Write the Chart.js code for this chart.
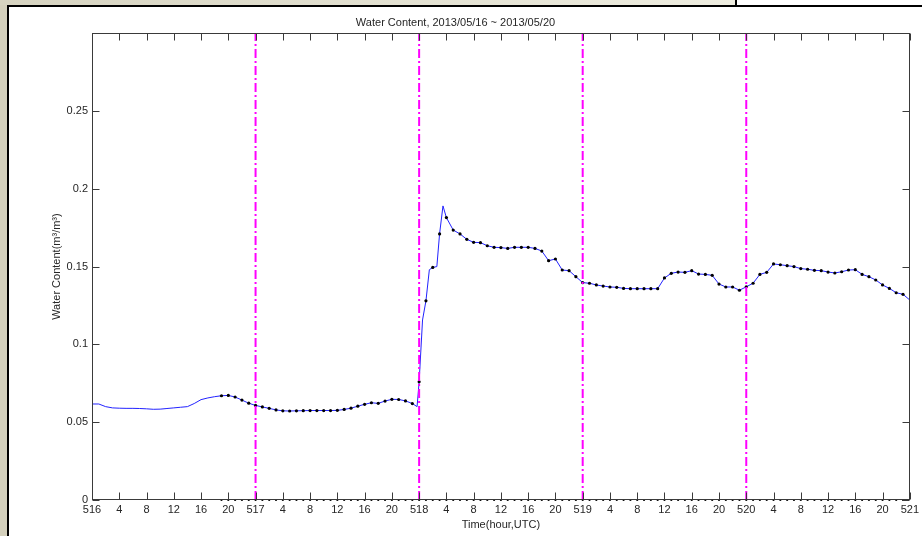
<!DOCTYPE html>
<html>
<head>
<meta charset="utf-8">
<script src="https://cdn.jsdelivr.net/npm/chart.js@4/dist/chart.umd.min.js"></script>
<style>
  html, body { margin: 0; padding: 0; }
  body { width: 922px; height: 536px; position: relative; overflow: hidden; background: #d4d0bc; }
  .strip { position: absolute; left: 0; top: 0; width: 736px; height: 5px; background: linear-gradient(to right, #d6d3c0, #eeede0); }
  .strip-r { position: absolute; left: 737px; top: 0; width: 185px; height: 5px; background: #fff; }
  .strip-sep { position: absolute; left: 735px; top: 0; width: 2px; height: 5px; background: #000; }
  .panel { position: absolute; left: 7px; top: 5px; width: 915px; height: 531px; box-sizing: border-box; background: #fff; border-left: 2px solid #000; border-top: 2px solid #000; }
  canvas { position: absolute; left: 0; top: 0; }
</style>
</head>
<body>
<div class="strip"></div>
<div class="strip-sep"></div>
<div class="strip-r"></div>
<div class="panel"></div>
<canvas id="chart" width="922" height="536"></canvas>
<script>
// hours since 2013/05/16 00 UTC
const hourT = [
  0, 1, 2, 3, 4, 5, 6, 7, 8, 9, 10, 11, 12, 13, 14, 15, 16, 17, 18, 19, 20, 21, 22, 23,
  24, 25, 26, 27, 28, 29, 30, 31, 32, 33, 34, 35, 36, 37, 38, 39, 40, 41, 42, 43, 44, 45, 46, 47, 47.7,
  48, 48.5, 49, 49.5, 50, 50.6, 51, 51.5, 52, 53, 54, 55, 56, 57, 58, 59, 60, 61, 62, 63, 64, 65, 66, 67, 68, 69, 70, 71,
  72, 73, 74, 75, 76, 77, 78, 79, 80, 81, 82, 83, 84, 85, 86, 87, 88, 89, 90, 91, 92, 93, 94, 95,
  96, 97, 98, 99, 100, 101, 102, 103, 104, 105, 106, 107, 108, 109, 110, 111, 112, 113, 114, 115, 116, 117, 118, 119, 120,
];
const waterContent = [
  0.0617, 0.0617, 0.0600, 0.0592, 0.0590, 0.0589, 0.0589, 0.0588, 0.0586, 0.0583, 0.0584, 0.0588,
  0.0592, 0.0596, 0.0600, 0.0620, 0.0645, 0.0656, 0.0664, 0.0670, 0.0672, 0.0662, 0.0642, 0.0622,
  0.0608, 0.0598, 0.0589, 0.0579, 0.0573, 0.0572, 0.0573, 0.0574, 0.0575, 0.0575, 0.0575, 0.0575,
  0.0576, 0.0582, 0.0590, 0.0603, 0.0615, 0.0625, 0.0621, 0.0636, 0.0647, 0.0646, 0.0637, 0.0620, 0.0600,
  0.0760, 0.1157, 0.1280, 0.1480, 0.1495, 0.1500, 0.1710, 0.1890, 0.1815, 0.1735, 0.1710, 0.1675,
  0.1656, 0.1654, 0.1634, 0.1624, 0.1622, 0.1617, 0.1624, 0.1624, 0.1624, 0.1617, 0.1600, 0.1538,
  0.1549, 0.1478, 0.1474, 0.1435,
  0.1397, 0.1393, 0.1382, 0.1375, 0.1369, 0.1367, 0.1360, 0.1358, 0.1358, 0.1358, 0.1358, 0.1358,
  0.1427, 0.1457, 0.1465, 0.1463, 0.1474, 0.1452, 0.1450, 0.1444, 0.1388, 0.1369, 0.1369, 0.1348,
  0.1370, 0.1393, 0.1450, 0.1463, 0.1517, 0.1512, 0.1506, 0.1500, 0.1487, 0.1483, 0.1476, 0.1474,
  0.1465, 0.1459, 0.1467, 0.1478, 0.1480, 0.1450, 0.1435, 0.1414, 0.1382, 0.1360, 0.1332, 0.1322, 0.1285,
];
// hourly samples drawn as black dots (from 19h on)
const firstMarkedHour = 19;
const lastMarkedHour = 119;
// hourly marks sitting on the zero line
const floorMarkHours = [
  19, 20, 21, 22, 23, 24, 25, 26, 27, 28, 29, 30, 31, 32, 33, 34, 35, 36, 37, 38, 39, 40, 41, 42, 43, 44,
  45, 46, 47, 48, 49, 50, 51, 52, 53, 54, 55, 56, 57, 58, 59, 60, 61, 62, 63, 64, 65, 66, 67, 68, 69, 70,
  71, 72, 73, 74, 75, 76, 77, 78, 79, 80, 81, 82, 83, 84, 85, 86, 87, 88, 89, 90, 91, 92, 93, 94, 95, 96,
  97, 98, 99, 100, 101, 102, 103, 104, 105, 106, 107, 108, 109, 110, 111, 112, 113, 114, 115, 116, 117, 118, 119,
];
const floorMarkValue = 0;
const dayBoundaries = [24, 48, 72, 96];
const firstDay = 516;
const yTop = 0.3;

const font = "'Liberation Sans', Arial, sans-serif";
const textColor = "#262626";

// MATLAB-like box with inward ticks on all four sides
const boxTicks = {
  id: "boxTicks",
  afterDatasetsDraw(chart) {
    const { ctx, chartArea: a, scales: { x, y } } = chart;
    const L = Math.round(a.left) + 0.5, R = Math.round(a.right) - 0.5;
    const T = Math.round(a.top) + 0.5, B = Math.round(a.bottom) - 0.5;
    const len = 7;
    ctx.save();
    ctx.strokeStyle = "#3a3a3a";
    ctx.lineWidth = 1;
    ctx.strokeRect(L, T, R - L, B - T);
    ctx.beginPath();
    x.ticks.forEach((t) => {
      const px = Math.round(x.getPixelForValue(t.value)) + 0.5;
      ctx.moveTo(px, B); ctx.lineTo(px, B - len);
      ctx.moveTo(px, T); ctx.lineTo(px, T + len);
    });
    y.ticks.forEach((t) => {
      const py = Math.round(y.getPixelForValue(t.value)) + 0.5;
      ctx.moveTo(L, py); ctx.lineTo(L + len, py);
      ctx.moveTo(R, py); ctx.lineTo(R - len, py);
    });
    ctx.stroke();
    ctx.restore();
  },
};

const dayLines = dayBoundaries.map((h) => ({
  data: [{ x: h, y: 0 }, { x: h, y: yTop }],
  borderColor: "#ff00ff",
  borderWidth: 2,
  borderDash: [9, 3, 2, 3],
  pointRadius: 0,
}));

new Chart(document.getElementById("chart"), {
  type: "line",
  data: {
    datasets: [
      ...dayLines,
      {
        data: hourT.map((h, i) => ({ x: h, y: waterContent[i] })),
        borderColor: "#2222ff",
        borderWidth: 1,
        tension: 0,
        pointRadius: (c) => {
          const h = c.raw ? c.raw.x : -1;
          return Number.isInteger(h) && h >= firstMarkedHour && h <= lastMarkedHour ? 1.6 : 0;
        },
        pointBackgroundColor: "#000",
        pointBorderWidth: 0,
      },
      {
        data: floorMarkHours.map((h) => ({ x: h, y: floorMarkValue })),
        showLine: false,
        pointRadius: 1.1,
        pointBackgroundColor: "#000",
        pointBorderWidth: 0,
        clip: false,
      },
    ],
  },
  options: {
    responsive: false,
    animation: false,
    devicePixelRatio: 1,
    layout: { padding: { left: 0, right: 11, top: 0, bottom: 0 } },
    plugins: {
      legend: { display: false },
      tooltip: { enabled: false },
      title: {
        display: true,
        text: "Water Content, 2013/05/16 ~ 2013/05/20",
        color: textColor,
        font: { family: font, size: 11, weight: "normal" },
        padding: { top: 16, bottom: 4 },
      },
    },
    scales: {
      x: {
        type: "linear",
        min: 0,
        max: 120,
        grid: { display: false, drawTicks: false },
        border: { display: false },
        afterFit: (s) => { s.height = 36; },
        ticks: {
          stepSize: 4,
          autoSkip: false,
          maxRotation: 0,
          padding: 3,
          color: textColor,
          font: { family: font, size: 11 },
          callback: (v) => (v % 24 === 0 ? String(firstDay + v / 24) : String(v % 24)),
        },
        title: {
          display: true,
          text: "Time(hour,UTC)",
          color: textColor,
          font: { family: font, size: 11 },
          padding: { top: 0, bottom: 4 },
        },
      },
      y: {
        min: 0,
        max: yTop,
        grid: { display: false, drawTicks: false },
        border: { display: false },
        afterFit: (s) => { s.width = 92; },
        ticks: {
          stepSize: 0.05,
          padding: 4,
          color: textColor,
          font: { family: font, size: 11 },
          callback: (v) => (Math.abs(v - yTop) < 1e-9 ? "" : String(Math.round(v * 100) / 100)),
        },
        title: {
          display: true,
          text: "Water Content(m³/m³)",
          color: textColor,
          font: { family: font, size: 11 },
          padding: { top: 50, bottom: 0 },
        },
      },
    },
  },
  plugins: [boxTicks],
});
</script>
</body>
</html>
